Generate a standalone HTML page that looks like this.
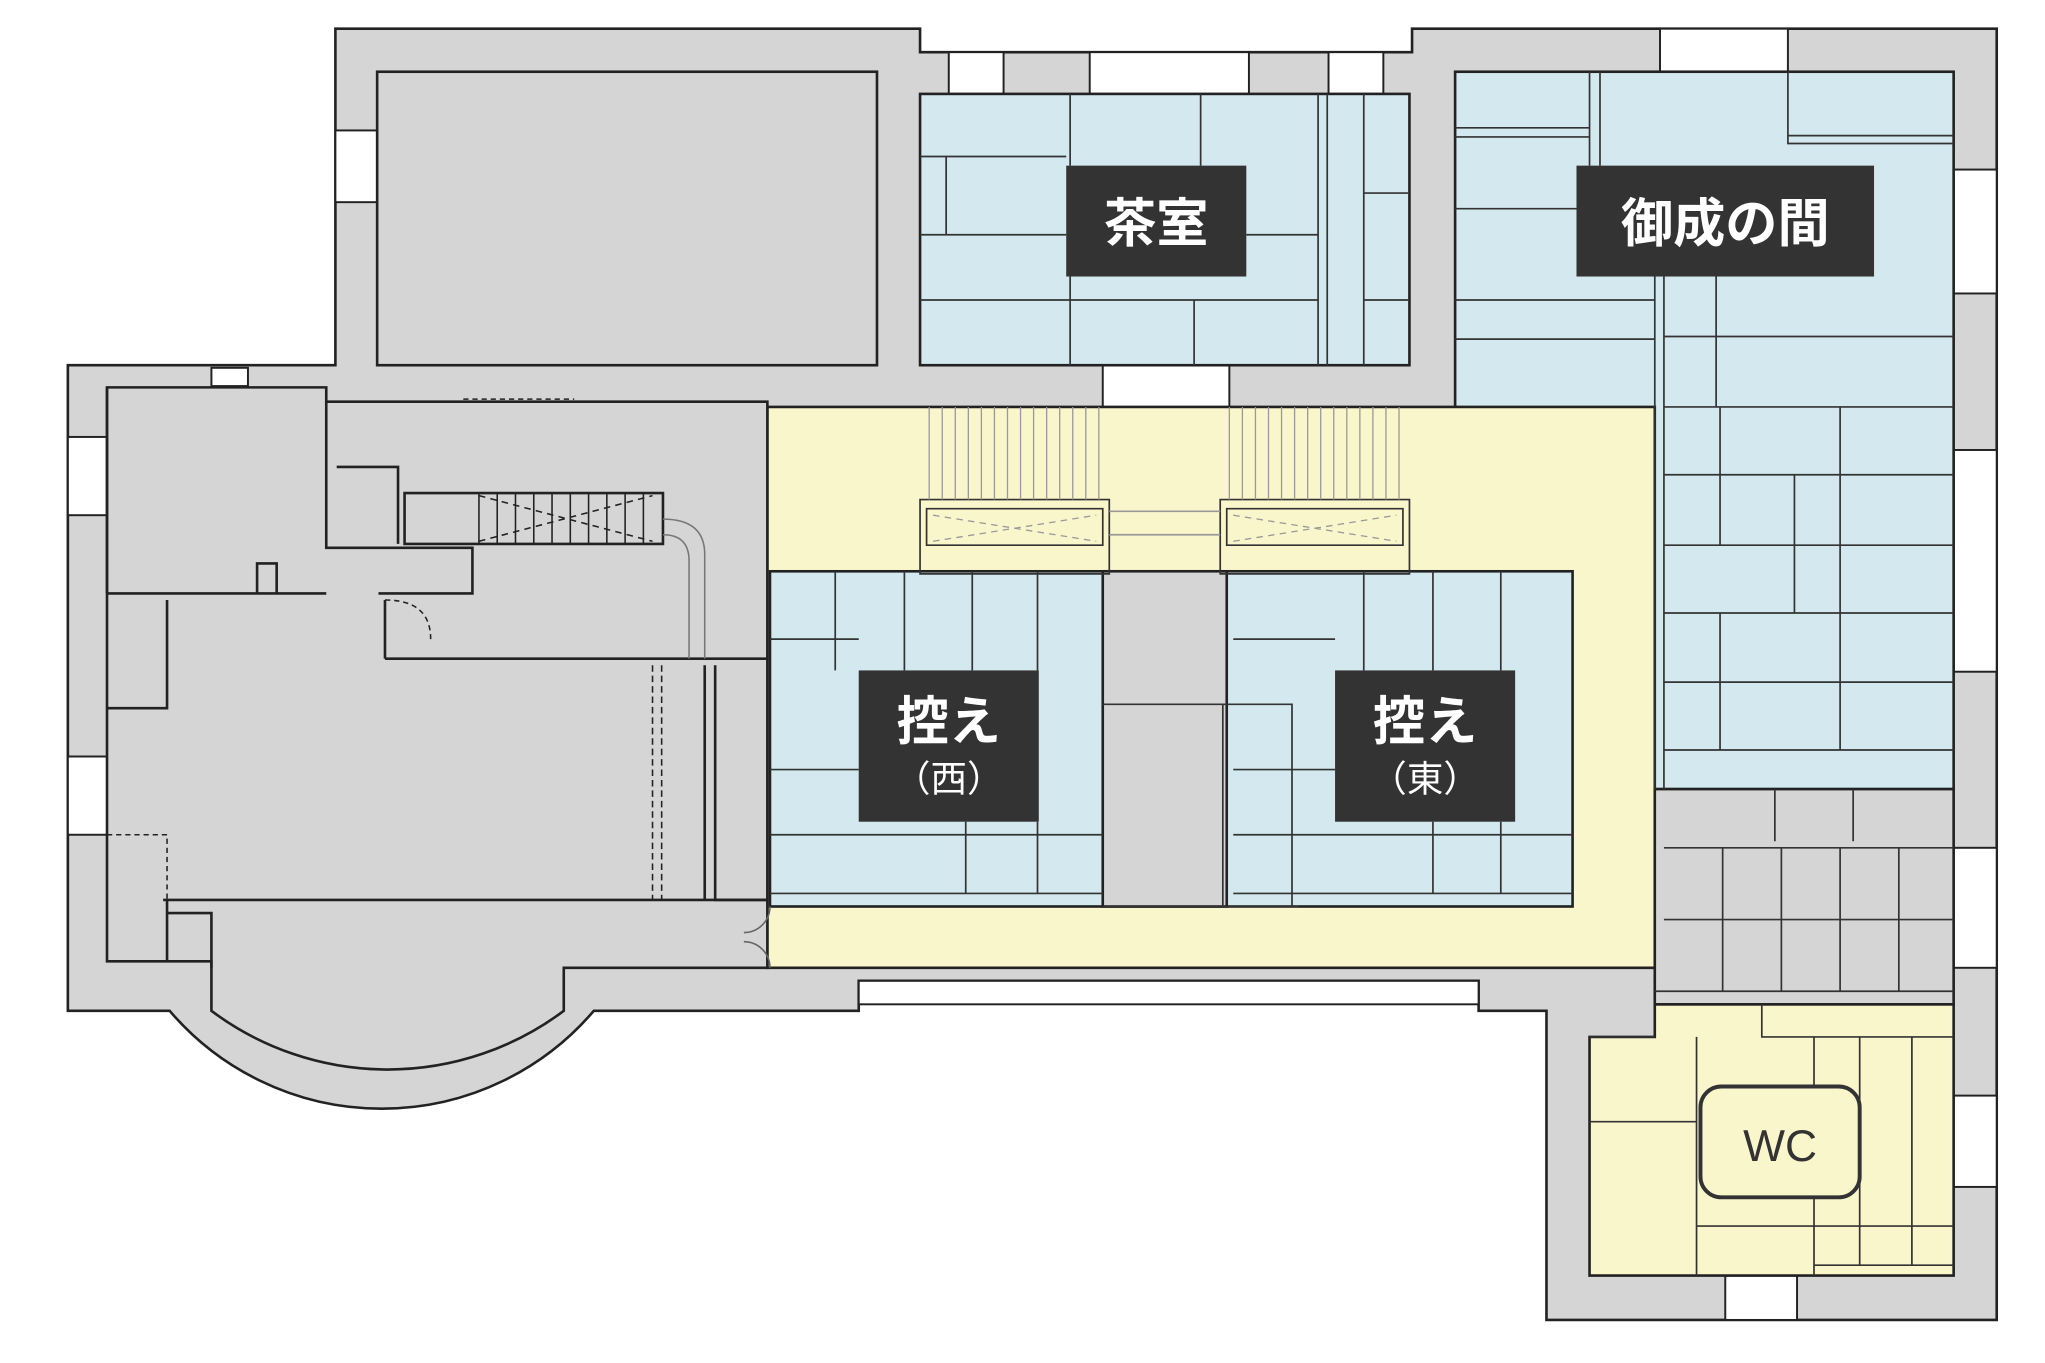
<!DOCTYPE html>
<html><head><meta charset="utf-8"><style>
html,body{margin:0;padding:0;background:#fff;}
svg{display:block;}
text{font-family:"Liberation Sans","Noto Sans CJK JP",sans-serif;}
</style></head><body>
<svg width="2045" height="1363" viewBox="0 0 1567 1045" preserveAspectRatio="none" xmlns="http://www.w3.org/2000/svg">
<rect width="1567" height="1045" fill="#fff"/>
<g stroke="#222" stroke-width="2" fill="#d5d5d5">
<path d="M257,22 H705 V40 H1082 V22 H1530 V1012 H1185 V775 H1133 V752 H658 V775 H455 A213.5,213.5 0 0 1 130,775 H52 V280 H257 Z"/>
</g>
<g fill="#fff" stroke="#222" stroke-width="1.5">
<rect x="727" y="40" width="42" height="32"/><rect x="835" y="40" width="122" height="32"/><rect x="1018" y="40" width="42" height="32"/>
<rect x="1272" y="22" width="98" height="33"/>
<rect x="1497" y="130" width="33" height="95"/><rect x="1497" y="345" width="33" height="170"/><rect x="1497" y="650" width="33" height="92"/><rect x="1497" y="840" width="33" height="70"/>
<rect x="1322" y="978" width="55" height="34"/>
<rect x="257" y="100" width="32" height="55"/>
<rect x="52" y="335" width="30" height="60"/><rect x="52" y="580" width="30" height="60"/>
<rect x="658" y="752" width="475" height="18"/>
<rect x="845" y="280" width="97" height="32"/>
<rect x="162" y="282" width="28" height="14"/>
</g>
<g stroke="#222" stroke-width="2">
<rect x="289" y="55" width="383" height="225" fill="#d5d5d5"/>
<rect x="705" y="72" width="375" height="208" fill="#d3e9ef"/>
<rect x="1115" y="55" width="382" height="550" fill="#d3e9ef"/>
<path d="M588,312 H1268 V770 H1497 V978 H1218 V795 H1268 V742 H588 Z" fill="#faf6cc"/>
<rect x="1268" y="605" width="229" height="165" fill="#d5d5d5"/>
<rect x="590" y="438" width="615" height="257" fill="#d3e9ef"/>
<rect x="845" y="438" width="95" height="257" fill="#d5d5d5"/>
<path d="M82,297 H250 V308 H588 V742 H432 V775 A225,225 0 0 1 162,775 V737 H82 Z" fill="#d5d5d5"/>
</g>
<g stroke="#222" stroke-width="2" fill="none">
<path d="M82,297 V455"/>
<path d="M250,308 V420 H362 V455 H290"/>
<path d="M310,378 H508 V417 H310 Z"/>
<path d="M258,358 H305 V417"/>
<path d="M197,455 V432 H212 V455"/>
<path d="M82,455 H250"/>
<path d="M82,543 H128 V460"/>
<path d="M295,505 H588"/><path d="M295,505 V460"/>
<path d="M540,510 V690"/><path d="M548,510 V690 H588"/>
<path d="M125,690 H588"/><path d="M128,690 V737"/><path d="M128,700 H162 V742"/>
</g>
<g stroke="#222" stroke-width="1.2" fill="none">
<path d="M367,378 V417 M381,378 V417 M395,378 V417 M409,378 V417 M423,378 V417 M437,378 V417 M451,378 V417 M465,378 V417 M479,378 V417 M493,378 V417"/>
<path d="M367,380 L500,415 M367,415 L500,380" stroke-dasharray="5,4"/>
<path d="M508,398 Q540,398 540,425 V505 M508,410 Q528,410 528,430 V505" stroke="#777"/>
<path d="M295,460 Q330,460 330,490" stroke-dasharray="4,3"/>
<path d="M82,640 H128 V690" stroke-dasharray="4,3"/>
<path d="M500,510 V690 M507,510 V690" stroke-dasharray="5,3"/>
<path d="M355,280 H440 M355,306 H440" stroke-dasharray="4,3"/>
<path d="M590,695 A20,20 0 0 1 570,715 M590,742 A20,20 0 0 0 570,722" stroke="#666"/>
</g>
<g stroke="#333" stroke-width="1.3" fill="none">
<path d="M705,120 H817 M705,180 H817 M725,120 V180 M705,230 H1010 M820,72 V127 M920,72 V127 M820,212 V280 M915,230 V280 M955,180 H1010 M1010,72 V280 M1017,72 V280 M1045,72 V280 M1045,148 H1080 M1045,230 H1080"/>
<path d="M1115,98 H1218 M1115,105 H1218 M1218,55 V127 M1226,55 V127 M1370,55 V110 H1497 M1370,104 H1497 M1115,160 H1208 M1115,230 H1268 M1115,260 H1268 M1315,212 V312 M1268,212 V605 M1275,212 V605 M1275,258 H1497 M1275,312 H1497 M1275,364 H1497 M1275,418 H1497 M1275,470 H1497 M1275,523 H1497 M1275,575 H1497 M1410,312 V575 M1318,312 V418 M1318,470 V575 M1375,364 V470"/>
<path d="M590,490 H658 M590,590 H658 M590,640 H845 M590,685 H845 M640,438 V514 M693,438 V514 M745,438 V514 M795,438 V514 M740,630 V685 M795,630 V685 M945,490 H1023 M945,590 H1023 M945,640 H1205 M945,685 H1205 M1045,438 V514 M1098,438 V514 M1150,438 V514 M1098,630 V685 M1150,630 V685"/>
<path d="M845,540 H990 V695 M937,540 V695 M845,695 H995"/>
<path d="M705,383 H850 V440 H705 Z M935,383 H1080 V440 H935 Z M710,390 H845 V418 H710 Z M940,390 H1075 V418 H940 Z"/>
<path d="M712,312 V383 M722,312 V383 M732,312 V383 M742,312 V383 M752,312 V383 M762,312 V383 M772,312 V383 M782,312 V383 M792,312 V383 M802,312 V383 M812,312 V383 M822,312 V383 M832,312 V383 M842,312 V383" stroke="#999" stroke-width="1"/>
<path d="M942,312 V383 M952,312 V383 M962,312 V383 M972,312 V383 M982,312 V383 M992,312 V383 M1002,312 V383 M1012,312 V383 M1022,312 V383 M1032,312 V383 M1042,312 V383 M1052,312 V383 M1062,312 V383 M1072,312 V383" stroke="#999" stroke-width="1"/>
<path d="M850,392 H935 M850,410 H935" stroke="#999"/>
<path d="M715,395 L840,415 M715,415 L840,395 M945,395 L1070,415 M945,415 L1070,395" stroke="#999" stroke-dasharray="5,4" stroke-width="1"/>
<path d="M1275,650 H1497 M1360,605 V645 M1420,605 V645 M1275,705 H1497 M1320,650 V760 M1365,650 V760 M1410,650 V760 M1455,650 V760 M1268,760 H1497 M1350,770 V795 H1497 M1268,795 H1218"/>
<path d="M1390,795 V978 M1300,795 V978 M1218,860 H1300 M1300,940 H1390 M1425,795 V970 M1465,795 V970 M1390,940 H1497 M1390,970 H1497"/>
</g>
<rect x="817" y="127" width="138" height="85" fill="#333"/>
<text x="886" y="185" font-size="40" fill="#fff" text-anchor="middle" font-weight="bold">茶室</text>
<rect x="1208" y="127" width="228" height="85" fill="#333"/>
<text x="1322" y="185" font-size="40" fill="#fff" text-anchor="middle" font-weight="bold">御成の間</text>
<rect x="658" y="514" width="138" height="116" fill="#333"/>
<text x="727" y="567" font-size="40" fill="#fff" text-anchor="middle" font-weight="bold">控え</text>
<text x="727" y="607" font-size="28" fill="#fff" text-anchor="middle">（西）</text>
<rect x="1023" y="514" width="138" height="116" fill="#333"/>
<text x="1092" y="567" font-size="40" fill="#fff" text-anchor="middle" font-weight="bold">控え</text>
<text x="1092" y="607" font-size="28" fill="#fff" text-anchor="middle">（東）</text>
<rect x="1303" y="833" width="122" height="85" rx="16" fill="#faf6cc" stroke="#333" stroke-width="3"/>
<text x="1364" y="890" font-size="34" fill="#333" text-anchor="middle">WC</text>
</svg>
</body></html>
